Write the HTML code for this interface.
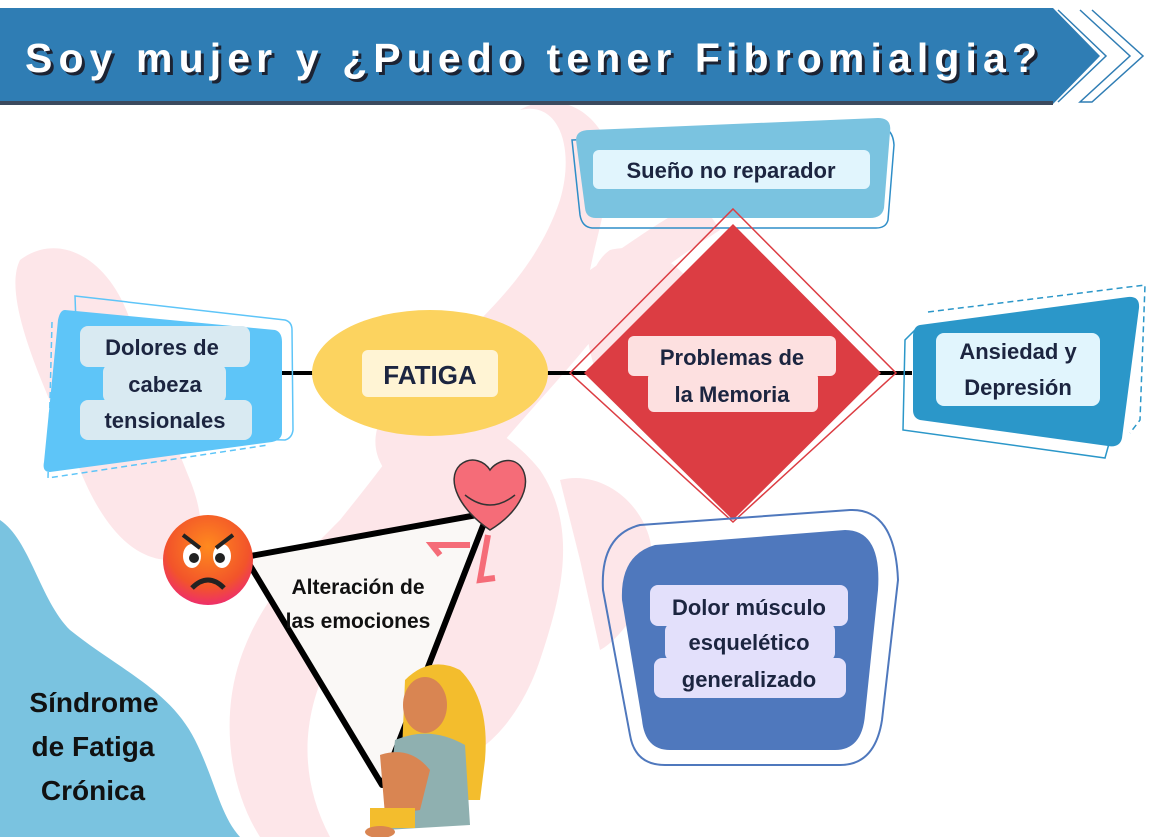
<!DOCTYPE html>
<html><head><meta charset="utf-8"><style>
html,body{margin:0;padding:0;background:#fff}
svg{display:block}
text{font-family:"Liberation Sans",sans-serif;font-weight:bold}
</style></head><body>
<svg width="1160" height="837" viewBox="0 0 1160 837" xmlns="http://www.w3.org/2000/svg">
<defs>
<radialGradient id="ang" cx="50%" cy="35%" r="65%"><stop offset="0" stop-color="#ff8a1e"/><stop offset="0.7" stop-color="#f2542a"/><stop offset="1" stop-color="#ee2f6a"/></radialGradient>
</defs>
<g fill="#fde6e9">
<path d="M520 110 C560 100 575 150 560 200 C540 260 500 300 470 330 L450 360 C420 420 380 470 340 520 C300 560 260 600 240 660 C220 720 230 790 260 837 L330 837 C300 780 300 720 330 660 C370 590 430 530 480 470 C520 420 560 380 600 330 C640 280 690 250 720 230 L700 200 C660 220 620 250 590 270 C600 220 620 170 600 130 C580 100 545 95 520 110 Z"/>
<path d="M20 260 C60 230 110 260 130 320 C150 380 170 430 190 480 C210 530 200 560 170 560 C130 560 100 520 80 470 C50 400 0 300 20 260 Z"/>
<path d="M380 420 C430 390 500 420 540 470 C580 530 560 600 540 660 C520 720 480 760 450 760 L420 700 C440 640 470 580 440 530 C410 490 360 470 380 420 Z"/>
<path d="M610 250 C650 240 690 270 700 300 L600 380 C580 340 580 270 610 250 Z"/>
<path d="M560 480 C600 470 640 500 650 540 C660 590 620 640 600 650 L580 560 Z"/>
</g>
<path d="M0 520 C30 540 40 600 70 630 C120 670 170 690 195 740 C215 780 220 815 240 837 L0 837 Z" fill="#7ac3e0"/>
<rect x="0" y="8" width="1053" height="94" fill="#2f7db4"/>
<rect x="0" y="101" width="1053" height="4" fill="#3b4a5e"/>
<polygon points="1053,8 1100,56 1053,104" fill="#2f7db4"/>
<polyline points="1058,10 1106,56 1058,102" fill="none" stroke="#2f7db4" stroke-width="1.5"/>
<polyline points="1080,10 1130,56 1080,102 1092,102 1143,56 1092,10 Z" fill="none" stroke="#2f7db4" stroke-width="1.5"/>
<text x="28" y="75" font-size="41" fill="#1c2333" textLength="1012" lengthAdjust="spacing">Soy mujer y ¿Puedo tener Fibromialgia?</text>
<text x="25" y="72" font-size="41" fill="#ffffff" textLength="1012" lengthAdjust="spacing">Soy mujer y ¿Puedo tener Fibromialgia?</text>
<line x1="280" y1="373" x2="912" y2="373" stroke="#000" stroke-width="4"/>
<path d="M572 140 L883 128 Q893 130 894 145 L888 220 Q886 228 876 228 L592 228 Q582 227 580 215 Z" fill="none" stroke="#2f8ec8" stroke-width="1.5"/>
<path d="M576 140 Q576 130 590 130 L878 118 Q892 118 890 132 L884 208 Q882 218 870 218 L596 218 Q586 218 585 208 Z" fill="#7ac3e0"/>
<rect x="593" y="150" width="277" height="39" rx="6" fill="#e1f5fd"/>
<text x="731" y="178" font-size="22" fill="#1c2540" text-anchor="middle">Sueño no reparador</text>
<polygon points="733,209 896,373 733,522 570,373" fill="none" stroke="#dc3d43" stroke-width="1.5"/>
<polygon points="733,224 881,373 733,520 584,373" fill="#dc3d43"/>
<rect x="628" y="336" width="208" height="40" rx="6" fill="#fde0e0"/>
<rect x="648" y="372" width="170" height="40" rx="6" fill="#fde0e0"/>
<text x="732" y="365" font-size="22" fill="#1c2540" text-anchor="middle">Problemas de</text>
<text x="732" y="402" font-size="22" fill="#1c2540" text-anchor="middle">la Memoria</text>
<ellipse cx="430" cy="373" rx="118" ry="63" fill="#fcd35f"/>
<rect x="362" y="350" width="136" height="47" rx="6" fill="#fff4d4"/>
<text x="430" y="384" font-size="26" fill="#1c2540" text-anchor="middle">FATIGA</text>
<path d="M75 296 L285 320 Q292 322 292 330 L293 430 Q292 438 285 440 L80 435 Z" fill="none" stroke="#5ec5f8" stroke-width="1.5"/>
<path d="M52 322 L48 478 L268 445" fill="none" stroke="#5ec5f8" stroke-width="1.5" stroke-dasharray="6,4"/>
<path d="M65 310 L275 330 Q282 332 282 342 L282 432 Q282 440 272 442 L50 472 Q42 472 44 462 L58 320 Q60 310 65 310 Z" fill="#5ec5f8"/>
<rect x="80" y="326" width="170" height="41" rx="8" fill="#d9eaf2"/>
<rect x="103" y="364" width="123" height="39" rx="8" fill="#d9eaf2"/>
<rect x="80" y="400" width="172" height="40" rx="8" fill="#d9eaf2"/>
<text x="162" y="355" font-size="22" fill="#1c2540" text-anchor="middle">Dolores de</text>
<text x="165" y="392" font-size="22" fill="#1c2540" text-anchor="middle">cabeza</text>
<text x="165" y="428" font-size="22" fill="#1c2540" text-anchor="middle">tensionales</text>
<path d="M928 312 L1145 285 L1140 420 L1130 433" fill="none" stroke="#2b97c9" stroke-width="1.5" stroke-dasharray="6,4"/>
<path d="M915 330 L905 340 L903 430 L1105 458 L1110 440" fill="none" stroke="#2b97c9" stroke-width="1.5"/>
<path d="M920 325 L1128 297 Q1140 296 1139 308 L1122 438 Q1120 448 1108 446 L920 420 Q913 418 913 410 L913 335 Q914 326 920 325 Z" fill="#2b97c9"/>
<rect x="936" y="333" width="164" height="73" rx="8" fill="#e1f5fd"/>
<text x="1018" y="359" font-size="22" fill="#1c2540" text-anchor="middle">Ansiedad y</text>
<text x="1018" y="395" font-size="22" fill="#1c2540" text-anchor="middle">Depresión</text>
<path d="M640 525 L850 510 Q895 508 898 580 L882 720 Q875 765 840 765 L665 765 Q635 765 630 735 L603 590 Q600 535 640 525 Z" fill="none" stroke="#4f78bd" stroke-width="2"/>
<path d="M655 545 L845 530 Q882 530 878 590 L865 715 Q862 750 835 750 L670 750 Q645 750 642 720 L622 600 Q620 555 655 545 Z" fill="#4f78bd"/>
<rect x="650" y="585" width="198" height="41" rx="8" fill="#e3e0fb"/>
<rect x="665" y="623" width="170" height="38" rx="8" fill="#e3e0fb"/>
<rect x="654" y="658" width="192" height="40" rx="8" fill="#e3e0fb"/>
<text x="749" y="615" font-size="22" fill="#1c2540" text-anchor="middle">Dolor músculo</text>
<text x="749" y="650" font-size="22" fill="#1c2540" text-anchor="middle">esquelético</text>
<text x="749" y="687" font-size="22" fill="#1c2540" text-anchor="middle">generalizado</text>
<polygon points="245,557 488,513 382,785" fill="#faf8f6" stroke="#000" stroke-width="6" stroke-linejoin="round"/>
<text x="358" y="594" font-size="21" fill="#111" text-anchor="middle">Alteración de</text>
<text x="358" y="628" font-size="21" fill="#111" text-anchor="middle">las emociones</text>
<circle cx="208" cy="560" r="45" fill="url(#ang)"/>
<ellipse cx="192" cy="556" rx="9" ry="12" fill="#fff"/><ellipse cx="222" cy="556" rx="9" ry="12" fill="#fff"/>
<circle cx="194" cy="558" r="5" fill="#222"/><circle cx="220" cy="558" r="5" fill="#222"/>
<path d="M183 535 L200 548 M233 535 L216 548" stroke="#222" stroke-width="4"/>
<path d="M192 588 Q208 572 224 588" stroke="#222" stroke-width="5" fill="none"/>
<path d="M490 530 C460 510 445 480 460 465 C472 455 485 462 490 470 C497 460 515 455 523 470 C532 490 515 515 490 530 Z" fill="#f56c78" stroke="#333" stroke-width="1.5"/>
<path d="M470 545 L432 545 L440 555 M488 535 L480 580 L495 578" stroke="#f56c78" stroke-width="6" fill="none"/>
<path d="M465 495 Q490 515 515 495" stroke="#333" stroke-width="1.5" fill="none"/>
<path d="M405 680 Q430 655 460 670 Q490 700 485 760 L480 800 L400 800 Z" fill="#f3bd2d"/>
<ellipse cx="425" cy="705" rx="22" ry="28" fill="#d98552"/>
<path d="M395 740 Q430 725 465 745 L470 825 L385 830 Z" fill="#8fb0b0"/>
<path d="M380 755 Q410 745 430 770 L420 810 L385 815 Z" fill="#d98552"/>
<rect x="370" y="808" width="45" height="20" fill="#f3bd2d"/>
<ellipse cx="380" cy="832" rx="15" ry="6" fill="#d98552"/>
<g font-size="28" text-anchor="middle">
<text x="94" y="712" fill="#111">Síndrome</text>
<text x="93" y="756" fill="#111">de Fatiga</text>
<text x="93" y="800" fill="#111">Crónica</text>
</g>
</svg>
</body></html>
